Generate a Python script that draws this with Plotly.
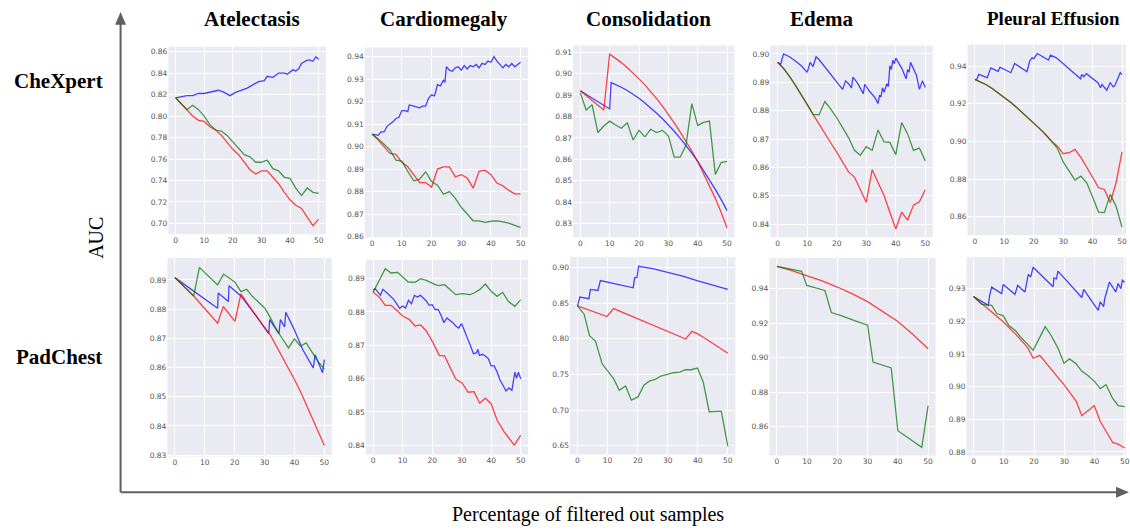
import plotly.graph_objects as go

W, H = 1130, 531

# ---------------- data ----------------
X2 = [0, 2, 4, 6, 8, 10, 12, 14, 16, 18, 20, 22, 24, 26, 28, 30, 32, 34, 36, 38, 40, 42, 44, 46, 48, 50]
X_TICKS = [0, 10, 20, 30, 40, 50]

COLUMNS = ["Atelectasis", "Cardiomegaly", "Consolidation", "Edema", "Pleural Effusion"]
ROWS = ["CheXpert", "PadChest"]

# CheXpert - Atelectasis
chex_atel_blue_x = [0, 2, 4, 6, 8, 10, 12, 14, 15, 17, 19, 21, 23, 25, 27, 29, 31, 32, 34, 36, 38, 39, 41, 42, 43, 44, 46, 47, 48, 49, 50]
chex_atel_blue = [0.817, 0.818, 0.819, 0.819, 0.821, 0.821, 0.822, 0.823, 0.824, 0.822, 0.819, 0.822, 0.824, 0.826, 0.829, 0.832, 0.833, 0.837, 0.836, 0.840, 0.840, 0.839, 0.843, 0.842, 0.844, 0.849, 0.852, 0.852, 0.851, 0.855, 0.853]
chex_atel_red = [0.817, 0.811, 0.805, 0.800, 0.796, 0.795, 0.790, 0.787, 0.782, 0.775, 0.769, 0.764, 0.757, 0.750, 0.746, 0.749, 0.749, 0.743, 0.737, 0.729, 0.722, 0.717, 0.714, 0.706, 0.698, 0.704]
chex_atel_green = [0.817, 0.811, 0.806, 0.810, 0.806, 0.800, 0.792, 0.787, 0.786, 0.782, 0.776, 0.771, 0.764, 0.762, 0.757, 0.757, 0.759, 0.751, 0.749, 0.743, 0.742, 0.733, 0.726, 0.733, 0.729, 0.728]
chex_atel_ticks = [0.70, 0.72, 0.74, 0.76, 0.78, 0.80, 0.82, 0.84, 0.86]

# CheXpert - Cardiomegaly
chex_card_blue_x = [0, 2, 3, 4, 5, 6, 7, 8, 9, 10, 11, 12, 12.5, 14, 16, 17, 18, 19, 20, 21, 22, 23, 24, 24.5, 25, 26, 27, 28, 29, 30, 31, 32, 33, 34, 35, 36, 37, 38, 39, 40, 41, 42, 43, 44, 45, 46, 47, 48, 49, 50]
chex_card_blue = [0.9055, 0.905, 0.9065, 0.9065, 0.909, 0.910, 0.911, 0.9125, 0.913, 0.916, 0.916, 0.9155, 0.9185, 0.918, 0.9172, 0.918, 0.918, 0.9215, 0.923, 0.9225, 0.9275, 0.927, 0.9295, 0.9285, 0.9355, 0.934, 0.9335, 0.935, 0.9355, 0.934, 0.936, 0.9345, 0.936, 0.9355, 0.9365, 0.935, 0.937, 0.9365, 0.938, 0.9375, 0.940, 0.938, 0.9365, 0.935, 0.9365, 0.9355, 0.937, 0.9355, 0.9365, 0.9375]
chex_card_red = [0.9055, 0.903, 0.900, 0.897, 0.8965, 0.893, 0.891, 0.8875, 0.884, 0.884, 0.882, 0.890, 0.891, 0.891, 0.8865, 0.8875, 0.886, 0.8815, 0.889, 0.8895, 0.8875, 0.8838, 0.8825, 0.8805, 0.879, 0.879]
chex_card_green = [0.9055, 0.9035, 0.901, 0.8985, 0.894, 0.8935, 0.889, 0.8848, 0.8855, 0.8888, 0.8845, 0.8828, 0.8788, 0.880, 0.877, 0.873, 0.870, 0.867, 0.867, 0.8663, 0.8668, 0.867, 0.8665, 0.866, 0.865, 0.864]
chex_card_ticks = [0.86, 0.87, 0.88, 0.89, 0.90, 0.91, 0.92, 0.93, 0.94]

# CheXpert - Consolidation
chex_cons_blue_x = [0, 10, 10.5, 12, 14, 16, 18, 20, 22, 24, 26, 28, 30, 32, 34, 36, 38, 40, 42, 44, 46, 48, 50]
chex_cons_blue = [0.892, 0.8835, 0.8958, 0.8949, 0.8936, 0.8921, 0.8904, 0.8885, 0.8863, 0.8840, 0.8815, 0.8789, 0.8761, 0.8731, 0.8699, 0.8665, 0.8629, 0.8590, 0.8548, 0.8505, 0.8460, 0.8412, 0.8361]
chex_cons_red = [0.892, 0.8898, 0.8875, 0.8853, 0.883, 0.909, 0.9071, 0.9051, 0.9027, 0.9002, 0.8975, 0.8947, 0.8916, 0.8883, 0.8848, 0.8810, 0.8770, 0.8728, 0.8685, 0.8639, 0.8590, 0.8535, 0.8478, 0.8418, 0.8352, 0.8280]
chex_cons_green = [0.891, 0.883, 0.8855, 0.8725, 0.8755, 0.8778, 0.876, 0.8745, 0.877, 0.869, 0.8735, 0.8705, 0.874, 0.8725, 0.8735, 0.871, 0.861, 0.861, 0.8665, 0.886, 0.8758, 0.8772, 0.8778, 0.853, 0.8585, 0.859]
chex_cons_ticks = [0.83, 0.84, 0.85, 0.86, 0.87, 0.88, 0.89, 0.90, 0.91]

# CheXpert - Edema
chex_edema_blue_x = [0, 1, 2, 4, 6, 8, 10, 11, 12, 13, 14, 16, 18, 20, 22, 23, 24, 25, 25.5, 27, 29, 29.5, 31, 33, 34, 34.5, 35, 35.5, 36, 37, 37.5, 38, 38.5, 39, 39.5, 40, 40.5, 42, 43.5, 44, 44.5, 45, 47, 48, 49, 50]
chex_edema_blue = [0.897, 0.8963, 0.900, 0.899, 0.8975, 0.8958, 0.8935, 0.897, 0.8955, 0.899, 0.898, 0.8953, 0.8928, 0.890, 0.8875, 0.8905, 0.8895, 0.888, 0.8918, 0.8898, 0.886, 0.8893, 0.887, 0.8845, 0.8825, 0.8855, 0.8848, 0.888, 0.8865, 0.8895, 0.8885, 0.8958, 0.8945, 0.8978, 0.8965, 0.8985, 0.8975, 0.895, 0.8912, 0.8945, 0.8935, 0.897, 0.8925, 0.8875, 0.8905, 0.8882]
chex_edema_red = [0.897, 0.8948, 0.8922, 0.889, 0.8858, 0.8823, 0.8787, 0.8752, 0.8718, 0.8686, 0.8654, 0.8620, 0.8584, 0.8566, 0.8522, 0.8477, 0.8592, 0.8545, 0.8502, 0.8442, 0.8383, 0.8442, 0.8414, 0.8467, 0.8479, 0.8521]
chex_edema_green = [0.897, 0.895, 0.892, 0.889, 0.8855, 0.882, 0.8787, 0.8785, 0.8832, 0.8805, 0.8775, 0.874, 0.8705, 0.866, 0.8643, 0.8673, 0.866, 0.8732, 0.869, 0.8688, 0.8645, 0.8758, 0.8718, 0.866, 0.8668, 0.8623]
chex_edema_ticks = [0.84, 0.85, 0.86, 0.87, 0.88, 0.89, 0.90]

# CheXpert - Pleural Effusion
chex_pleu_blue_x = [0, 0.5, 1.3, 4.2, 5.4, 7.9, 8.5, 12.2, 13.5, 17.7, 18.6, 19.4, 20, 21.2, 25, 25.7, 27.7, 31, 35.9, 36.3, 37, 37.9, 41.8, 42.7, 43.2, 44.8, 46, 47, 47.5, 49.4, 50]
chex_pleu_blue = [0.933, 0.9325, 0.9356, 0.9339, 0.9391, 0.9372, 0.9395, 0.9365, 0.9414, 0.937, 0.9426, 0.9444, 0.944, 0.9467, 0.9432, 0.9458, 0.9444, 0.94, 0.9333, 0.9356, 0.9344, 0.936, 0.9312, 0.9285, 0.9302, 0.9272, 0.9312, 0.929, 0.9295, 0.9365, 0.9355]
chex_pleu_red = [0.933, 0.9315, 0.930, 0.928, 0.9258, 0.9235, 0.921, 0.9183, 0.9155, 0.9127, 0.9097, 0.9068, 0.9037, 0.9003, 0.8975, 0.8935, 0.894, 0.8958, 0.8915, 0.8865, 0.881, 0.8755, 0.8745, 0.8675, 0.8782, 0.8944]
chex_pleu_green = [0.933, 0.9315, 0.930, 0.928, 0.9258, 0.9235, 0.921, 0.9183, 0.9155, 0.9127, 0.9097, 0.9068, 0.9037, 0.9003, 0.8965, 0.8891, 0.8845, 0.8795, 0.8816, 0.878, 0.8705, 0.8625, 0.8622, 0.8719, 0.8654, 0.8544]
chex_pleu_ticks = [0.86, 0.88, 0.90, 0.92, 0.94]

# PadChest - Atelectasis
pad_atel_blue_x = [0, 14.3, 14.5, 17.9, 18.1, 22.3, 27.3, 31.4, 31.7, 34.8, 35.3, 36.7, 37.1, 39.7, 42.8, 46.3, 46.9, 49.4, 50]
pad_atel_blue = [0.8908, 0.8803, 0.8855, 0.8826, 0.888, 0.8843, 0.8775, 0.8716, 0.8764, 0.8716, 0.8764, 0.8739, 0.8789, 0.8735, 0.8661, 0.8599, 0.8644, 0.8582, 0.8627]
pad_atel_red_x = [0, 6.3, 14.3, 16.2, 20.1, 22.1, 24, 26, 28, 30, 32, 34, 36, 38, 40, 42, 44, 46, 48, 50]
pad_atel_red = [0.8908, 0.8845, 0.8752, 0.8809, 0.8758, 0.8852, 0.8823, 0.8793, 0.8763, 0.8737, 0.8710, 0.8673, 0.8636, 0.8597, 0.8559, 0.8518, 0.8472, 0.8425, 0.8380, 0.8333]
pad_atel_green_x = [0, 6.3, 8.2, 14.3, 16.3, 20.1, 22.1, 24, 26, 30.1, 31.7, 34, 36.2, 38, 40, 42, 43.9, 46.1, 47.8, 50]
pad_atel_green = [0.8908, 0.8845, 0.8943, 0.8883, 0.892, 0.8892, 0.886, 0.8868, 0.8843, 0.8803, 0.8775, 0.873, 0.8695, 0.8667, 0.8698, 0.8673, 0.8684, 0.865, 0.8622, 0.8595]
pad_atel_ticks = [0.83, 0.84, 0.85, 0.86, 0.87, 0.88, 0.89]

# PadChest - Cardiomegaly
pad_card_blue_x = [0, 0.7, 2.5, 3.3, 5, 7, 9, 10, 11, 12, 13, 14, 15, 16, 17, 18, 19, 20, 21, 22, 23, 24, 25, 26, 27, 28, 29, 30, 31, 32, 33, 34, 35, 35.5, 36, 37, 38, 39, 40, 41, 42, 43, 44, 45, 46, 47, 48, 48.6, 49.2, 50]
pad_card_blue = [0.8865, 0.887, 0.885, 0.8868, 0.8855, 0.8838, 0.8811, 0.8818, 0.8812, 0.8835, 0.8825, 0.885, 0.8845, 0.885, 0.8842, 0.8833, 0.882, 0.8822, 0.8807, 0.8808, 0.879, 0.8768, 0.8782, 0.8775, 0.8768, 0.8758, 0.8752, 0.8765, 0.8745, 0.872, 0.8698, 0.8675, 0.8677, 0.8688, 0.867, 0.8673, 0.8668, 0.866, 0.8638, 0.8638, 0.862, 0.8595, 0.858, 0.8563, 0.8572, 0.8565, 0.8619, 0.8601, 0.8619, 0.8599]
pad_card_red_x = [0, 2.2, 4.1, 6.1, 8.3, 10, 12.2, 14.2, 16.1, 18, 20.3, 22.4, 24.2, 26.1, 28, 30.2, 32.2, 34.2, 36.1, 38, 40, 42, 44.4, 47.8, 50]
pad_card_red = [0.8859, 0.8844, 0.882, 0.882, 0.8803, 0.8788, 0.8778, 0.8758, 0.8761, 0.8743, 0.8708, 0.867, 0.8668, 0.8631, 0.8599, 0.8586, 0.8559, 0.8561, 0.8526, 0.8541, 0.8524, 0.8475, 0.844, 0.84, 0.843]
pad_card_green_x = [0, 1.1, 4.1, 6.1, 8.3, 11.9, 14.2, 16.1, 18, 21.1, 22.2, 24.2, 28, 30.2, 32.8, 34.2, 36.1, 38, 40, 42, 43.9, 45.8, 48, 50]
pad_card_green = [0.8859, 0.8879, 0.893, 0.8917, 0.8919, 0.889, 0.8889, 0.89, 0.8895, 0.8882, 0.8879, 0.8882, 0.8852, 0.8855, 0.8852, 0.8857, 0.8867, 0.8884, 0.8862, 0.8847, 0.8859, 0.8832, 0.8817, 0.8837]
pad_card_ticks = [0.84, 0.85, 0.86, 0.87, 0.88, 0.89]

# PadChest - Consolidation
pad_cons_blue_x = [0, 0.8, 3.8, 4.3, 6.8, 7.6, 18.5, 19, 19.8, 20.3, 25, 30, 35, 40, 45, 50]
pad_cons_blue = [0.8462, 0.8587, 0.8564, 0.8694, 0.868, 0.8819, 0.8717, 0.8856, 0.8865, 0.9019, 0.8985, 0.8935, 0.888, 0.8815, 0.8755, 0.8694]
pad_cons_red_x = [0, 9.8, 12, 36, 38, 40, 42, 44, 46, 48, 50]
pad_cons_red = [0.8462, 0.8314, 0.8425, 0.7998, 0.8105, 0.807, 0.802, 0.7965, 0.7905, 0.7852, 0.7799]
pad_cons_green_x = [0, 2.2, 4, 6, 8.2, 9.8, 12, 13.9, 16, 17.9, 20.1, 22.1, 23.9, 25.9, 27.7, 29.9, 31.8, 34, 35.9, 37.8, 39.9, 41.8, 43.8, 47.8, 50]
pad_cons_green = [0.8462, 0.8346, 0.8044, 0.7966, 0.765, 0.7557, 0.7441, 0.7279, 0.734, 0.714, 0.7186, 0.7349, 0.7409, 0.7432, 0.7479, 0.7502, 0.7525, 0.7534, 0.7567, 0.7567, 0.759, 0.7395, 0.6978, 0.6987, 0.649]
pad_cons_ticks = [0.65, 0.70, 0.75, 0.80, 0.85, 0.90]

# PadChest - Edema (only red and green visible)
pad_edema_blue_x = []
pad_edema_blue = []
pad_edema_red_x = [0, 5, 10, 15, 20, 25, 30, 35, 40, 45, 50]
pad_edema_red = [0.953, 0.9505, 0.9475, 0.9445, 0.941, 0.937, 0.9325, 0.927, 0.921, 0.9135, 0.9052]
pad_edema_green_x = [0, 8.2, 9.9, 15.9, 18, 21.5, 25.9, 30, 31.8, 37.8, 40, 41.6, 47.9, 50]
pad_edema_green = [0.953, 0.9501, 0.9419, 0.939, 0.9262, 0.9243, 0.9214, 0.9189, 0.8975, 0.8941, 0.8577, 0.8558, 0.8481, 0.8722]
pad_edema_ticks = [0.86, 0.88, 0.90, 0.92, 0.94]

# PadChest - Pleural Effusion
pad_pleu_blue_x = [0, 4.9, 5.3, 6, 9.3, 9.8, 13.7, 14.6, 17, 17.5, 18.1, 18.9, 19.7, 26.3, 26.6, 27.4, 27.9, 35.8, 36.4, 41.2, 41.9, 43, 43.4, 44, 44.9, 47, 47.8, 48.7, 49.2, 50]
pad_pleu_blue = [0.9276, 0.9249, 0.9278, 0.9305, 0.9285, 0.9313, 0.9283, 0.931, 0.929, 0.932, 0.9344, 0.9336, 0.9366, 0.9306, 0.9333, 0.933, 0.9354, 0.9273, 0.9298, 0.9234, 0.926, 0.9245, 0.9271, 0.929, 0.932, 0.929, 0.9316, 0.93, 0.9326, 0.932]
pad_pleu_red_x = [0, 6, 9.8, 13.9, 17.8, 19.7, 21.9, 25.7, 29.9, 33.9, 35.8, 39.9, 41.9, 46, 47.8, 50]
pad_pleu_red = [0.9276, 0.9229, 0.9199, 0.9161, 0.9121, 0.9087, 0.9096, 0.9053, 0.9006, 0.8956, 0.8911, 0.8942, 0.8893, 0.8829, 0.8824, 0.8812]
pad_pleu_green_x = [0, 2.7, 6, 7.7, 9.8, 11.7, 13.9, 15.9, 17.8, 19.7, 21.9, 23.7, 25.7, 27.9, 29.9, 31.7, 33.9, 35.8, 37.7, 39.9, 41.9, 43.8, 46, 47.8, 50]
pad_pleu_green = [0.9276, 0.9252, 0.9249, 0.9224, 0.9217, 0.9187, 0.9171, 0.9148, 0.9131, 0.9111, 0.9151, 0.9184, 0.9156, 0.9118, 0.9072, 0.9085, 0.907, 0.9047, 0.9035, 0.9017, 0.8994, 0.9006, 0.8964, 0.8942, 0.8939]
pad_pleu_ticks = [0.88, 0.89, 0.90, 0.91, 0.92, 0.93]

# ---------------- styles / layout ----------------
BLUE = "rgba(0,0,255,0.72)"
RED = "rgba(255,0,0,0.72)"
GREEN = "rgba(0,120,0,0.72)"

panels = [
    dict(s=[(chex_atel_blue_x, chex_atel_blue), (X2, chex_atel_red), (X2, chex_atel_green)], ticks=chex_atel_ticks,
         px=(169, 327), py=(47, 236), xr=[-2.5, 52.5], yr=[0.690, 0.8646]),
    dict(s=[(chex_card_blue_x, chex_card_blue), (X2, chex_card_red), (X2, chex_card_green)], ticks=chex_card_ticks,
         px=(366, 530), py=(48, 239), xr=[-2.5, 52.5], yr=[0.8597, 0.944]),
    dict(s=[(chex_cons_blue_x, chex_cons_blue), (X2, chex_cons_red), (X2, chex_cons_green)], ticks=chex_cons_ticks,
         px=(575, 737), py=(46, 239), xr=[-2.5, 52.5], yr=[0.8237, 0.913]),
    dict(s=[(chex_edema_blue_x, chex_edema_blue), (X2, chex_edema_red), (X2, chex_edema_green)], ticks=chex_edema_ticks,
         px=(773, 936), py=(46, 239), xr=[-2.5, 52.5], yr=[0.8354, 0.9029]),
    dict(s=[(chex_pleu_blue_x, chex_pleu_blue), (X2, chex_pleu_red), (X2, chex_pleu_green)], ticks=chex_pleu_ticks,
         px=(971, 1130), py=(45, 237), xr=[-2.5, 51.35], yr=[0.8502, 0.9514]),
    dict(s=[(pad_atel_blue_x, pad_atel_blue), (pad_atel_red_x, pad_atel_red), (pad_atel_green_x, pad_atel_green)], ticks=pad_atel_ticks,
         px=(168, 333), py=(260, 460), xr=[-2.5, 52.5], yr=[0.8295, 0.8975]),
    dict(s=[(pad_card_blue_x, pad_card_blue), (pad_card_red_x, pad_card_red), (pad_card_green_x, pad_card_green)], ticks=pad_card_ticks,
         px=(367, 530), py=(262, 458), xr=[-2.5, 52.5], yr=[0.8372, 0.8956]),
    dict(s=[(pad_cons_blue_x, pad_cons_blue), (pad_cons_red_x, pad_cons_red), (pad_cons_green_x, pad_cons_green)], ticks=pad_cons_ticks,
         px=(572, 738), py=(259, 458), xr=[-2.5, 52.5], yr=[0.6377, 0.9148]),
    dict(s=[(pad_edema_blue_x, pad_edema_blue), (pad_edema_red_x, pad_edema_red), (pad_edema_green_x, pad_edema_green)], ticks=pad_edema_ticks,
         px=(772, 939), py=(260, 459), xr=[-2.5, 52.5], yr=[0.8433, 0.9578]),
    dict(s=[(pad_pleu_blue_x, pad_pleu_blue), (pad_pleu_red_x, pad_pleu_red), (pad_pleu_green_x, pad_pleu_green)], ticks=pad_pleu_ticks,
         px=(970, 1130), py=(259, 459), xr=[-2.3, 50.4], yr=[0.8789, 0.9397]),
]

fig = go.Figure()
layout = {}
tickfont = dict(family="DejaVu Sans", size=7.5, color="#555555")
for i, p in enumerate(panels, start=1):
    sfx = "" if i == 1 else str(i)
    for (xs, ys), col in zip(p["s"], [BLUE, RED, GREEN]):
        fig.add_trace(go.Scatter(x=xs, y=ys, mode="lines", line=dict(color=col, width=1.3),
                                 xaxis="x" + sfx, yaxis="y" + sfx, hoverinfo="skip", showlegend=False))
    layout["xaxis" + sfx] = dict(domain=[p["px"][0] / W, min(p["px"][1] / W, 1.0)], range=p["xr"], anchor="y" + sfx,
                                 tickvals=X_TICKS, ticks="", showgrid=True, gridcolor="white", gridwidth=1,
                                 zeroline=False, showline=False, tickfont=tickfont, fixedrange=True,
                                 ticklabeloverflow="allow")
    layout["yaxis" + sfx] = dict(domain=[1 - p["py"][1] / H, 1 - p["py"][0] / H], range=p["yr"], anchor="x" + sfx,
                                 tickvals=p["ticks"], tickformat=".2f", ticks="", showgrid=True, gridcolor="white",
                                 gridwidth=1, zeroline=False, showline=False, tickfont=tickfont, fixedrange=True)

serif = "Liberation Serif, Times New Roman, serif"
col_centers = [253, 446, 651, 825, 1057]
col_sizes = [21, 21, 21, 21, 19]
annotations = []
for name, cx, fs in zip(COLUMNS, col_centers, col_sizes):
    annotations.append(dict(text="<b>%s</b>" % name, x=cx / W, y=1 - 19 / H, xref="paper", yref="paper",
                            showarrow=False, font=dict(family=serif, size=fs, color="black"),
                            xanchor="center", yanchor="middle"))
for name, cy in zip(ROWS, [82, 360]):
    annotations.append(dict(text="<b>%s</b>" % name, x=59 / W, y=1 - cy / H, xref="paper", yref="paper",
                            showarrow=False, font=dict(family=serif, size=21, color="black"),
                            xanchor="center", yanchor="middle"))
label_font = dict(family=serif, size=20, color="black")
annotations.append(dict(text="AUC", x=97 / W, y=1 - 240 / H, xref="paper", yref="paper", textangle=-90,
                        showarrow=False, font=label_font, xanchor="center", yanchor="middle"))
annotations.append(dict(text="Percentage of filtered out samples", x=590 / W, y=1 - 518 / H, xref="paper",
                        yref="paper", showarrow=False, font=label_font, xanchor="center", yanchor="middle"))

AX = "#606060"
ax_x, ax_y = 121, 496
shapes = [
    dict(type="line", xref="paper", yref="paper", x0=ax_x / W, y0=1 - ax_y / H, x1=ax_x / W, y1=1 - 22 / H,
         line=dict(color=AX, width=2)),
    dict(type="path", xref="paper", yref="paper",
         path="M %f,%f L %f,%f L %f,%f Z" % ((ax_x - 5.5) / W, 1 - 25 / H, ax_x / W, 1 - 12 / H, (ax_x + 5.5) / W, 1 - 25 / H),
         fillcolor=AX, line=dict(color=AX, width=0)),
    dict(type="line", xref="paper", yref="paper", x0=ax_x / W, y0=1 - ax_y / H, x1=1122 / W, y1=1 - ax_y / H,
         line=dict(color=AX, width=2)),
    dict(type="path", xref="paper", yref="paper",
         path="M %f,%f L %f,%f L %f,%f Z" % (1120 / W, 1 - (ax_y - 5.5) / H, 1133 / W, 1 - ax_y / H, 1120 / W, 1 - (ax_y + 5.5) / H),
         fillcolor=AX, line=dict(color=AX, width=0)),
]

fig.update_layout(width=W, height=H, autosize=False, margin=dict(l=0, r=0, t=0, b=0),
                  paper_bgcolor="white", plot_bgcolor="#EAEAF2", showlegend=False,
                  annotations=annotations, shapes=shapes, **layout)

fig.write_html("out.html", config={"displayModeBar": False},
               post_script="document.body.style.margin='0';document.body.style.padding='0';"
                           "document.body.style.overflow='hidden';")
